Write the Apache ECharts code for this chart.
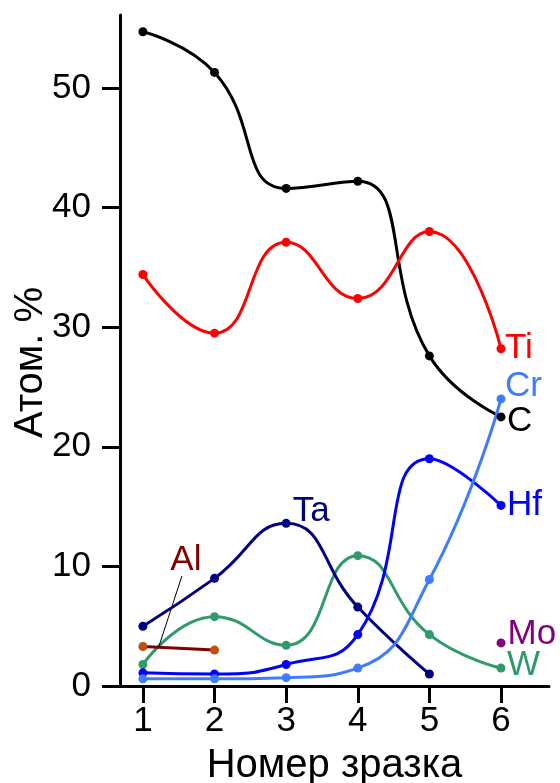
<!DOCTYPE html>
<html>
<head>
<meta charset="utf-8">
<script src="https://cdn.jsdelivr.net/npm/echarts@6/dist/echarts.min.js"></script>
<style>
  html, body { margin: 0; padding: 0; background: #fff; }
  #chart { width: 560px; height: 783px; }
</style>
</head>
<body>
<div id="chart"></div>
<script>
// sample numbers on the x axis (at. %)
const samples = [1, 2, 3, 4, 5, 6];
const cVals = [54.7, 51.3, 41.6, 42.2, 27.6, 22.5];
const tiVals = [34.4, 29.5, 37.1, 32.4, 38.0, 28.2];
const crVals = [0.6, 0.6, 0.7, 1.5, 8.9, 24.0];
const hfVals = [1.1, 1.0, 1.8, 4.3, 19.0, 15.1];
const taVals = [5.0, 9.0, 13.6, 6.6, 1.0];
const wVals = [1.8, 5.8, 3.4, 10.9, 4.3, 1.5];
const alVals = [3.3, 3.0];
const moSample = [6];
const moVals = [3.6];
const xTicks = [1, 2, 3, 4, 5, 6];
const yTicks = [0, 10, 20, 30, 40, 50];

const FONT = 'Liberation Sans, Arial, sans-serif';
const pairs = (xs, ys) => ys.map((y, i) => [xs[i], y]);

function curve(name, vals, color, extra) {
  return Object.assign({
    name,
    type: 'line',
    data: pairs(samples, vals),
    smooth: 0.5,
    symbol: 'circle',
    symbolSize: 9,
    lineStyle: { color, width: 3 },
    itemStyle: { color },
    z: 3,
  }, extra || {});
}

function endLabel(text, color, offset) {
  return {
    endLabel: {
      show: true,
      formatter: text,
      color,
      fontSize: 35,
      fontFamily: FONT,
      distance: 4,
      offset,
    },
  };
}

const chart = echarts.init(document.getElementById('chart'), null, { renderer: 'canvas' });
chart.setOption({
  animation: false,
  backgroundColor: '#ffffff',
  textStyle: { fontFamily: FONT },
  grid: { left: 120, right: 11, top: 15, bottom: 97, containLabel: false, outerBoundsMode: 'none' },
  xAxis: {
    type: 'value',
    min: 0.68,
    max: 6.67,
    name: 'Номер зразка',
    nameLocation: 'middle',
    nameGap: 60,
    nameMoveOverlap: false,
    nameTextStyle: { fontSize: 40, color: '#000', fontFamily: FONT },
    axisLine: { lineStyle: { color: '#000', width: 3 } },
    axisTick: { customValues: xTicks, length: 17, lineStyle: { color: '#000', width: 3 } },
    axisLabel: { customValues: xTicks, fontSize: 35, color: '#000', margin: 18, fontFamily: FONT },
    splitLine: { show: false },
  },
  yAxis: {
    type: 'value',
    min: 0,
    max: 56.1,
    name: 'Атом. %',
    nameLocation: 'middle',
    nameGap: 69,
    nameMoveOverlap: false,
    nameTextStyle: { fontSize: 40, color: '#000', fontFamily: FONT, padding: [0, 24, 0, 0] },
    axisLine: { show: true, lineStyle: { color: '#000', width: 3 } },
    axisTick: { show: true, customValues: yTicks, length: 18, lineStyle: { color: '#000', width: 3 } },
    axisLabel: { customValues: yTicks, fontSize: 35, color: '#000', margin: 29, fontFamily: FONT },
    splitLine: { show: false },
  },
  series: [
    curve('C', cVals, '#000000', endLabel('C', '#000000', [2, 4])),
    curve('Ti', tiVals, '#ff0000', endLabel('Ti', '#ff0000', [0, 0])),
    curve('W', wVals, '#2f9a6a', endLabel('W', '#2f9a6a', [2, -3])),
    curve('Ta', taVals, '#000080', {
      data: pairs(samples, taVals).map((p, i) => i === 2 ? {
        value: p,
        label: { show: true, formatter: 'Ta', position: 'right', distance: 2, offset: [0, -12],
          color: '#000080', fontSize: 35, fontFamily: FONT },
      } : p),
    }),
    curve('Hf', hfVals, '#0000ff', endLabel('Hf', '#0000ff', [2, 0])),
    curve('Cr', crVals, '#3d7cff', endLabel('Cr', '#3d7cff', [0, -13])),
    curve('Al', alVals, '#800000', {
      itemStyle: { color: '#bb5010' },
      markLine: {
        silent: true,
        symbol: 'none',
        label: { show: false },
        lineStyle: { color: '#000', width: 1, type: 'solid' },
        data: [[{ coord: [1.545, 9.2] }, { coord: [1.22, 3.26] }]],
      },
      markPoint: {
        silent: true,
        symbol: 'circle',
        symbolSize: 0,
        label: { show: true, formatter: 'Al', color: '#800000', fontSize: 35, fontFamily: FONT, position: 'inside' },
        data: [{ coord: [1.6, 10.5] }],
      },
    }),
    {
      name: 'Mo',
      type: 'scatter',
      data: pairs(moSample, moVals),
      symbol: 'circle',
      symbolSize: 9,
      itemStyle: { color: '#800080', opacity: 1 },
      label: { show: true, formatter: 'Mo', position: 'right', distance: 2, offset: [0, -9],
        color: '#800080', fontSize: 35, fontFamily: FONT },
    },
  ],
});
</script>
</body>
</html>
